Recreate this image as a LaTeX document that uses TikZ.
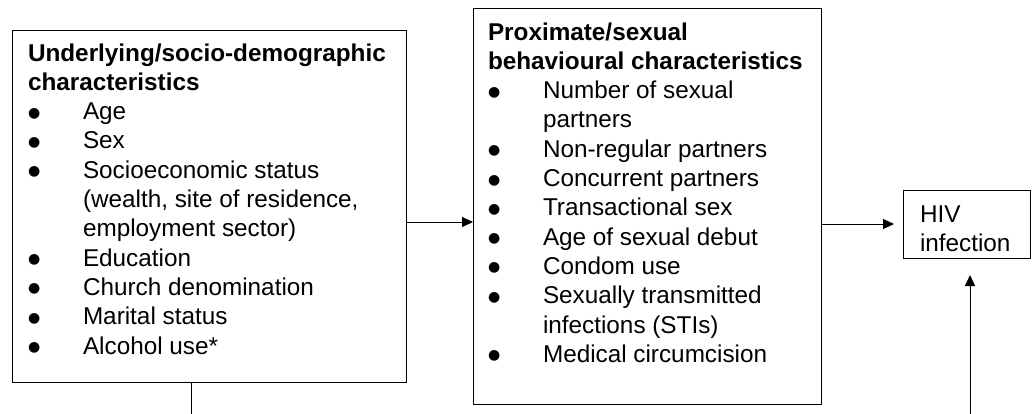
\documentclass[tikz,border=0pt]{standalone}
\usepackage{fontspec}
\setmainfont{Liberation Sans}
\newfontfamily\dotfont{DejaVu Sans}
\usetikzlibrary{arrows.meta}

% one bullet line, hanging indent for the wrapped part
\newcommand{\bitem}[1]{\par\hangindent=55pt\hangafter=1\noindent\strut\makebox[55pt][l]{\raisebox{2.5pt}{\dotfont\fontsize{14}{14}\selectfont ●}}#1}
\newcommand{\nl}{\hfil\break}
% fixed size text block, text at the top
\newcommand{\boxtext}[3]{\parbox[c][#2][t]{#1}{\fontsize{24.3}{29.3}\selectfont\raggedright #3}}

\begin{document}
\begin{tikzpicture}[x=1pt, y=-1pt, >={Triangle[length=11pt,width=10pt]},
  box/.style={draw, line width=1pt, outer sep=0pt, inner sep=0pt},
  arr/.style={->, line width=1pt}]
  \useasboundingbox (0,0) rectangle (1032,413);

  % Boxes
  \node[box, anchor=north west, inner xsep=16pt, inner ysep=10.5pt] (under) at (12,30)
    {\boxtext{362pt}{331pt}{\strut\mbox{\bfseries Underlying/socio-demographic}\nl\mbox{\bfseries characteristics}
      \bitem{Age}
      \bitem{Sex}
      \bitem{\mbox{Socioeconomic status}\nl\mbox{(wealth, site of residence,}\nl\mbox{employment sector)}}
      \bitem{Education}
      \bitem{Church denomination}
      \bitem{Marital status}
      \bitem{Alcohol use*}}};

  \node[box, anchor=north west, inner xsep=15pt, inner ysep=11.5pt] (prox) at (473,8)
    {\boxtext{318pt}{373pt}{\strut\mbox{\bfseries Proximate/sexual}\nl\mbox{\bfseries behavioural characteristics}
      \bitem{\mbox{Number of sexual}\nl partners}
      \bitem{Non-regular partners}
      \bitem{Concurrent partners}
      \bitem{Transactional sex}
      \bitem{Age of sexual debut}
      \bitem{Condom use}
      \bitem{\mbox{Sexually transmitted}\nl\mbox{infections (STIs)}}
      \bitem{Medical circumcision}}};

  \node[box, anchor=north west, inner xsep=17pt, inner ysep=11.5pt] (hiv) at (903,190)
    {\boxtext{93pt}{45pt}{\strut HIV\nl infection}};

  % Connectors
  \coordinate (low) at (0,440);
  \draw[arr] ([yshift=-16pt]under.east) -- ([yshift=-16pt]prox.west);
  \draw[arr, shorten >=9pt] (prox.east |- hiv.west) -- (hiv.west);
  \draw[arr, shorten >=17pt] ([xshift=-18pt]under.south) -- ([xshift=-18pt]under.south |- low)
    -| ([xshift=3.5pt]hiv.south);
\end{tikzpicture}
\end{document}
